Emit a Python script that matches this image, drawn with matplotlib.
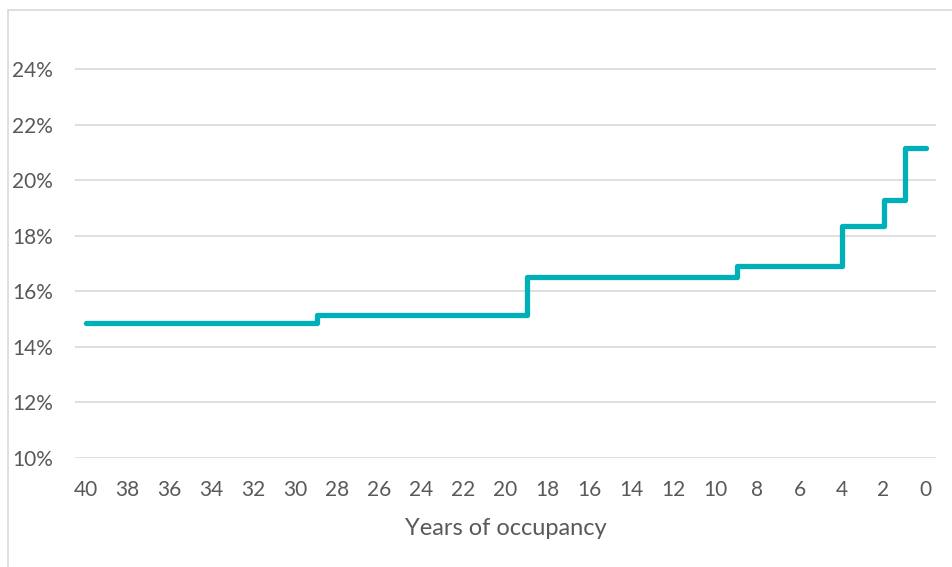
import numpy as np
import matplotlib.pyplot as plt
from matplotlib.patches import Rectangle
from matplotlib.ticker import FuncFormatter

# step breakpoints (years of occupancy, counted down) and the rate from there on
years = [40, 29, 19, 9, 4, 2, 1, 0]
rate = [14.85, 15.15, 16.5, 16.92, 18.35, 19.3, 21.15, 21.15]

x_ticks = list(range(40, -1, -2))
y_ticks = [10, 12, 14, 16, 18, 20, 22, 24]

plt.rcParams['font.family'] = ['Lato', 'DejaVu Sans']

fig = plt.figure(figsize=(9.52, 5.67), dpi=100)
ax = fig.add_axes([75 / 952, 1 - 458 / 567, (936 - 75) / 952, (458 - 13.5) / 567])

# chart frame like the office export
fig.patches.append(Rectangle((8 / 952, -0.1), 1.2, 1 - 10 / 567 + 0.1,
                             transform=fig.transFigure, fill=False,
                             edgecolor='#d9d9d9', linewidth=1.2))

ax.plot(years, rate, drawstyle='steps-post', color='#00b0b9', linewidth=3.8,
        solid_capstyle='round', solid_joinstyle='round')

ax.set_xlim(40.5, -0.5)
ax.set_ylim(10, 26)
ax.set_xticks(x_ticks)
ax.set_yticks(y_ticks)
ax.yaxis.set_major_formatter(FuncFormatter(lambda v, p: f'{v:.0f}%'))
ax.grid(axis='y', color='#d9d9d9', linewidth=1.2)
ax.set_axisbelow(True)
for s in ax.spines.values():
    s.set_visible(False)
ax.tick_params(length=0, labelsize=15, labelcolor='#595959')
ax.tick_params(axis='y', pad=16)
ax.tick_params(axis='x', pad=16)
ax.set_xlabel('Years of occupancy', fontsize=17, color='#595959', labelpad=13)

fig.savefig('out.png', dpi=100)
